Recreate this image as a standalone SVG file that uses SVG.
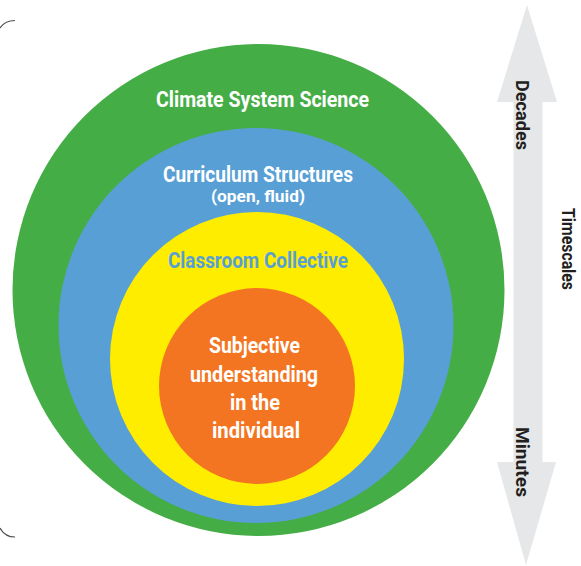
<svg xmlns="http://www.w3.org/2000/svg" width="581" height="566" viewBox="0 0 581 566">
  <style>
    .lbl { font-family: Roboto, "Liberation Sans", sans-serif; font-weight: 700; text-anchor: middle; }
    .w { fill: #FFFFFF; }
    .dk { fill: #231F20; }
  </style>
  <rect width="581" height="566" fill="#FFFFFF"/>
  <g id="bracket" fill="none" stroke="#4D4D4F" stroke-width="1.2">
    <path d="M0,28 Q5,20.5 15,20.5"/>
    <path d="M0,528 Q5,537 15,537"/>
  </g>
  <g id="timescale-arrow">
    <path d="M527,5 L557,102 L542.5,102 L542.5,462 L556,462 L526,565 L497,462 L513.5,462 L513.5,102 L497,102 Z" fill="#E6E7E8"/>
    <text class="lbl dk" font-size="18" transform="translate(516,115) rotate(90)" textLength="70" lengthAdjust="spacingAndGlyphs">Decades</text>
    <text class="lbl dk" font-size="18" transform="translate(516,462) rotate(90)" textLength="70" lengthAdjust="spacingAndGlyphs">Minutes</text>
    <text class="lbl dk" font-size="18" transform="translate(562,249) rotate(90)" textLength="82" lengthAdjust="spacingAndGlyphs">Timescales</text>
  </g>
  <g id="climate-system-science">
    <circle cx="258.5" cy="290" r="246" fill="#45AD46"/>
    <text class="lbl w" x="262.5" y="107" font-size="21.5" textLength="213" lengthAdjust="spacingAndGlyphs">Climate System Science</text>
  </g>
  <g id="curriculum-structures">
    <circle cx="256" cy="325.5" r="197.5" fill="#589FD5"/>
    <text class="lbl w" x="258" y="182" font-size="21.5" textLength="190" lengthAdjust="spacingAndGlyphs">Curriculum Structures</text>
    <text class="lbl w" x="258" y="202" font-size="17" textLength="94" lengthAdjust="spacingAndGlyphs">(open, fluid)</text>
  </g>
  <g id="classroom-collective">
    <circle cx="257" cy="359" r="147" fill="#FFED00"/>
    <text class="lbl" x="258" y="268" font-size="21.5" fill="#589FD5" textLength="180" lengthAdjust="spacingAndGlyphs">Classroom Collective</text>
  </g>
  <g id="subjective-understanding">
    <circle cx="257" cy="386" r="98" fill="#F47521"/>
    <text class="lbl w" x="254.5" y="353" font-size="21.5" textLength="91" lengthAdjust="spacingAndGlyphs">Subjective</text>
    <text class="lbl w" x="254" y="382" font-size="21.5" textLength="128" lengthAdjust="spacingAndGlyphs">understanding</text>
    <text class="lbl w" x="255" y="410" font-size="21.5" textLength="50" lengthAdjust="spacingAndGlyphs">in the</text>
    <text class="lbl w" x="256" y="438" font-size="21.5" textLength="88" lengthAdjust="spacingAndGlyphs">individual</text>
  </g>
</svg>
